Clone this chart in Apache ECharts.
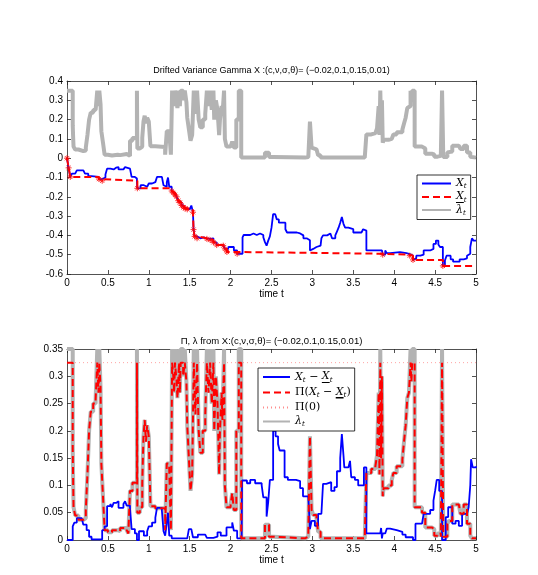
<!DOCTYPE html>
<html>
<head>
<meta charset="utf-8">
<script src="https://cdn.jsdelivr.net/npm/echarts@6/dist/echarts.min.js"></script>
<style>
  html, body { margin: 0; padding: 0; background: #fff; }
  #chart { width: 538px; height: 575px; }
</style>
</head>
<body>
<div id="chart"></div>
<script>
// axes: time range and tick step, value ranges of the two panels
const timeRange = [0, 5];
const timeStep = 0.5;
const topRange = [-0.6, 0.4];
const topStep = 0.1;
const bottomRange = [0, 0.35];
const bottomStep = 0.05;

// X_t, [time, value] breakpoints of the step path
const xPath = [[0,0],[0.02,-0.05],[0.04,-0.097],[0.06,-0.08],[0.10,-0.071],[0.12,-0.063],[0.20,-0.063],[0.22,-0.08],[0.26,-0.093],[0.30,-0.097],[0.39,-0.108],[0.43,-0.117],[0.45,-0.1],[0.47,-0.085],[0.49,-0.054],[0.53,-0.052],[0.55,-0.058],[0.57,-0.049],[0.60,-0.046],[0.63,-0.058],[0.69,-0.05],[0.71,-0.046],[0.73,-0.054],[0.77,-0.058],[0.79,-0.097],[0.83,-0.105],[0.855,-0.124],[0.86,-0.156],[0.90,-0.14],[0.94,-0.148],[0.98,-0.14],[1.00,-0.131],[1.04,-0.124],[1.08,-0.115],[1.10,-0.097],[1.16,-0.102],[1.18,-0.14],[1.20,-0.148],[1.22,-0.124],[1.235,-0.1],[1.25,-0.148],[1.28,-0.17],[1.30,-0.18],[1.32,-0.19],[1.34,-0.2],[1.36,-0.22],[1.38,-0.23],[1.40,-0.245],[1.425,-0.255],[1.445,-0.26],[1.47,-0.265],[1.50,-0.262],[1.52,-0.245],[1.54,-0.28],[1.547,-0.37],[1.56,-0.405],[1.59,-0.415],[1.63,-0.41],[1.67,-0.415],[1.71,-0.418],[1.75,-0.424],[1.77,-0.415],[1.79,-0.436],[1.83,-0.45],[1.91,-0.453],[1.93,-0.47],[1.955,-0.486],[1.975,-0.46],[2.0,-0.47],[2.02,-0.46],[2.04,-0.478],[2.08,-0.495],[2.146,-0.41],[2.16,-0.398],[2.24,-0.39],[2.28,-0.398],[2.32,-0.39],[2.36,-0.398],[2.40,-0.41],[2.42,-0.435],[2.44,-0.453],[2.46,-0.427],[2.48,-0.405],[2.50,-0.36],[2.52,-0.29],[2.545,-0.297],[2.565,-0.317],[2.59,-0.334],[2.67,-0.368],[2.69,-0.385],[2.81,-0.39],[2.85,-0.4],[2.89,-0.415],[2.93,-0.425],[2.97,-0.478],[2.99,-0.47],[3.01,-0.46],[3.05,-0.453],[3.10,-0.444],[3.11,-0.415],[3.13,-0.4],[3.18,-0.39],[3.22,-0.4],[3.24,-0.415],[3.28,-0.4],[3.30,-0.38],[3.32,-0.36],[3.34,-0.334],[3.36,-0.305],[3.38,-0.34],[3.40,-0.36],[3.44,-0.351],[3.46,-0.368],[3.50,-0.385],[3.60,-0.39],[3.62,-0.368],[3.64,-0.375],[3.66,-0.478],[3.85,-0.47],[3.86,-0.5],[3.89,-0.478],[3.91,-0.492],[3.95,-0.487],[4.07,-0.492],[4.15,-0.497],[4.19,-0.505],[4.23,-0.527],[4.25,-0.519],[4.27,-0.505],[4.32,-0.5],[4.36,-0.478],[4.44,-0.47],[4.48,-0.444],[4.51,-0.427],[4.54,-0.447],[4.56,-0.46],[4.595,-0.558],[4.62,-0.53],[4.64,-0.505],[4.69,-0.524],[4.72,-0.536],[4.80,-0.524],[4.85,-0.519],[4.89,-0.505],[4.91,-0.495],[4.93,-0.46],[4.95,-0.415],[4.97,-0.427],[5.0,-0.425]];

// running minimum of X_t (points where it moves down)
const minPath = [[0,0],[0.02,-0.05],[0.04,-0.097],[0.39,-0.108],[0.43,-0.117],[0.86,-0.156],[1.28,-0.17],[1.30,-0.18],[1.32,-0.19],[1.34,-0.2],[1.36,-0.22],[1.38,-0.23],[1.40,-0.245],[1.425,-0.255],[1.445,-0.26],[1.47,-0.265],[1.54,-0.28],[1.547,-0.37],[1.56,-0.405],[1.59,-0.415],[1.71,-0.418],[1.75,-0.424],[1.79,-0.436],[1.83,-0.45],[1.91,-0.453],[1.93,-0.47],[1.955,-0.486],[2.08,-0.495],[3.86,-0.5],[4.19,-0.505],[4.23,-0.527],[4.595,-0.558],[5.0,-0.558]];

// lambda_t
const lambdaPath = [[0,0.35],[0.07,0.17],[0.075,0.11],[0.08,0.06],[0.1,0.045],[0.14,0.037],[0.2,0.04],[0.23,0.055],[0.25,0.12],[0.27,0.2],[0.29,0.235],[0.32,0.25],[0.35,0.258],[0.37,0.35],[0.385,0.27],[0.395,0.35],[0.41,0.28],[0.42,0.14],[0.44,0.08],[0.46,0.018],[0.5,0.014],[0.55,0.018],[0.62,0.016],[0.65,0.022],[0.73,0.018],[0.75,0.012],[0.77,0.09],[0.8,0.105],[0.855,0.35],[0.86,0.05],[0.89,0.06],[0.92,0.105],[0.935,0.19],[0.95,0.22],[0.965,0.18],[0.98,0.21],[1.0,0.19],[1.02,0.062],[1.08,0.058],[1.2,0.018],[1.22,0.14],[1.25,0.13],[1.27,0.018],[1.285,0.35],[1.3,0.3],[1.31,0.27],[1.32,0.35],[1.34,0.29],[1.35,0.26],[1.37,0.35],[1.38,0.27],[1.39,0.35],[1.42,0.3],[1.44,0.35],[1.46,0.29],[1.47,0.21],[1.49,0.15],[1.51,0.09],[1.53,0.12],[1.55,0.35],[1.57,0.23],[1.59,0.35],[1.61,0.2],[1.63,0.16],[1.66,0.2],[1.69,0.23],[1.71,0.35],[1.73,0.27],[1.75,0.35],[1.77,0.25],[1.79,0.35],[1.8,0.2],[1.82,0.3],[1.84,0.25],[1.86,0.12],[1.87,0.2],[1.89,0.27],[1.9,0.22],[1.92,0.35],[1.93,0.1],[1.95,0.06],[2.0,0.065],[2.02,0.086],[2.04,0.055],[2.07,0.2],[2.1,0.35],[2.13,0.003],[2.42,0.028],[2.47,0.006],[2.52,0.003],[2.91,0.006],[2.95,0.015],[2.97,0.19],[2.99,0.055],[3.01,0.046],[3.05,0.04],[3.07,0.015],[3.1,0.003],[3.64,0.006],[3.66,0.123],[3.72,0.13],[3.77,0.135],[3.79,0.155],[3.81,0.27],[3.82,0.12],[3.83,0.35],[3.84,0.15],[3.85,0.3],[3.86,0.08],[3.87,0.095],[3.93,0.1],[3.97,0.11],[3.99,0.123],[4.03,0.135],[4.1,0.148],[4.12,0.18],[4.14,0.21],[4.16,0.26],[4.18,0.27],[4.2,0.35],[4.21,0.29],[4.22,0.35],[4.25,0.06],[4.34,0.05],[4.38,0.023],[4.46,0.02],[4.49,0.008],[4.53,0.012],[4.57,0.006],[4.585,0.35],[4.6,0.006],[4.65,0.03],[4.67,0.035],[4.71,0.065],[4.79,0.065],[4.81,0.048],[4.85,0.065],[4.89,0.03],[4.93,0.008],[4.95,0.003],[5.0,0.003]];

// X_t - running min
const diffPath = [[0,0],[0.07,0.025],[0.09,0.032],[0.12,0.04],[0.18,0.038],[0.2,0.028],[0.24,0.018],[0.27,0.006],[0.3,0.001],[0.43,0.018],[0.46,0.025],[0.49,0.062],[0.53,0.066],[0.55,0.06],[0.57,0.068],[0.6,0.071],[0.63,0.059],[0.69,0.066],[0.71,0.071],[0.73,0.063],[0.77,0.059],[0.79,0.02],[0.83,0.012],[0.855,0],[0.88,0.016],[0.94,0.008],[0.98,0.016],[1.0,0.025],[1.04,0.032],[1.08,0.041],[1.1,0.059],[1.16,0.054],[1.18,0.016],[1.2,0.008],[1.22,0.032],[1.235,0.05],[1.25,0.008],[1.28,0.003],[1.47,0.003],[1.49,0.02],[1.52,0.02],[1.54,0.005],[1.6,0.01],[1.69,0.01],[1.71,0.004],[1.79,0.006],[1.84,0.014],[1.88,0.008],[1.95,0.023],[2.02,0.032],[2.04,0.017],[2.08,0.003],[2.135,0],[2.14,0.109],[2.2,0.104],[2.24,0.11],[2.3,0.104],[2.38,0.1],[2.4,0.078],[2.44,0.043],[2.46,0.07],[2.48,0.11],[2.52,0.2],[2.55,0.19],[2.58,0.176],[2.6,0.164],[2.66,0.115],[2.7,0.11],[2.8,0.108],[2.85,0.095],[2.885,0.08],[2.95,0.077],[2.97,0.02],[2.99,0.035],[3.03,0.026],[3.07,0.048],[3.11,0.05],[3.13,0.103],[3.17,0.106],[3.23,0.09],[3.27,0.097],[3.3,0.126],[3.34,0.15],[3.36,0.194],[3.38,0.155],[3.39,0.133],[3.44,0.132],[3.46,0.145],[3.475,0.115],[3.52,0.11],[3.56,0.1],[3.63,0.133],[3.66,0.012],[3.83,0.012],[3.84,0.022],[3.85,0.003],[3.86,0.012],[3.89,0.015],[3.91,0.021],[3.95,0.018],[4.03,0.015],[4.1,0.01],[4.14,0.005],[4.23,0],[4.26,0.03],[4.34,0.03],[4.36,0.048],[4.44,0.055],[4.48,0.072],[4.5,0.09],[4.52,0.11],[4.55,0.09],[4.585,0],[4.63,0.042],[4.66,0.06],[4.71,0.03],[4.75,0.035],[4.79,0.026],[4.83,0.048],[4.89,0.048],[4.91,0.06],[4.93,0.1],[4.94,0.148],[4.96,0.133],[5,0.135]];

// Pi(X_t - running min)
const piPath = [[0,0.325],[0.07,0.17],[0.075,0.11],[0.08,0.06],[0.1,0.045],[0.14,0.037],[0.2,0.04],[0.23,0.055],[0.25,0.12],[0.27,0.2],[0.29,0.235],[0.32,0.25],[0.35,0.258],[0.37,0.325],[0.385,0.27],[0.395,0.325],[0.41,0.28],[0.42,0.14],[0.44,0.08],[0.46,0.018],[0.5,0.014],[0.55,0.018],[0.62,0.016],[0.65,0.022],[0.73,0.018],[0.75,0.012],[0.77,0.09],[0.8,0.105],[0.855,0.325],[0.86,0.05],[0.89,0.06],[0.92,0.105],[0.935,0.19],[0.95,0.22],[0.965,0.18],[0.98,0.21],[1.0,0.19],[1.02,0.062],[1.08,0.058],[1.2,0.018],[1.22,0.14],[1.25,0.13],[1.27,0.018],[1.285,0.325],[1.3,0.3],[1.31,0.27],[1.32,0.325],[1.34,0.29],[1.35,0.26],[1.37,0.325],[1.38,0.27],[1.39,0.325],[1.42,0.3],[1.44,0.325],[1.46,0.29],[1.47,0.21],[1.49,0.15],[1.51,0.09],[1.53,0.12],[1.55,0.325],[1.57,0.23],[1.59,0.325],[1.61,0.2],[1.63,0.16],[1.66,0.2],[1.69,0.23],[1.71,0.325],[1.73,0.27],[1.75,0.325],[1.77,0.25],[1.79,0.325],[1.8,0.2],[1.82,0.3],[1.84,0.25],[1.86,0.12],[1.87,0.2],[1.89,0.27],[1.9,0.22],[1.92,0.325],[1.93,0.1],[1.95,0.06],[2.0,0.065],[2.02,0.086],[2.04,0.055],[2.07,0.2],[2.1,0.325],[2.13,0.003],[2.42,0.028],[2.47,0.006],[2.52,0.003],[2.91,0.006],[2.95,0.015],[2.97,0.19],[2.99,0.055],[3.01,0.046],[3.05,0.04],[3.07,0.015],[3.1,0.003],[3.64,0.006],[3.66,0.123],[3.72,0.13],[3.77,0.135],[3.79,0.155],[3.81,0.27],[3.82,0.12],[3.83,0.325],[3.84,0.15],[3.85,0.3],[3.86,0.08],[3.87,0.095],[3.93,0.1],[3.97,0.11],[3.99,0.123],[4.03,0.135],[4.1,0.148],[4.12,0.18],[4.14,0.21],[4.16,0.26],[4.18,0.27],[4.2,0.325],[4.21,0.29],[4.22,0.325],[4.25,0.06],[4.34,0.05],[4.38,0.023],[4.46,0.02],[4.49,0.008],[4.53,0.012],[4.57,0.006],[4.585,0.325],[4.6,0.006],[4.65,0.03],[4.67,0.035],[4.71,0.065],[4.79,0.065],[4.81,0.048],[4.85,0.065],[4.89,0.03],[4.93,0.008],[4.95,0.003],[5.0,0.003]];

// Pi(0)
const piZero = 0.325;

const topTitle = 'Drifted Variance Gamma X :(c,ν,σ,θ)= (−0.02,0.1,0.15,0.01)';
const bottomTitle = 'Π, λ from X:(c,ν,σ,θ)= (−0.02,0.1,0.15,0.01)';

// legend labels, u = underlined X (running minimum)
const legendText = {
  Xt: '{i|X}{s|t}',
  Xmin: '{u|X}{s|t}',
  lambda: '{i|λ}{s|t}',
  diff: '{i|X}{s|t}{r| − }{u|X}{s|t}',
  Pi: '{r|Π(}{i|X}{s|t}{r| − }{u|X}{s|t}{r|)}',
  Pi0: '{r|Π(0)}'
};

const BLUE = '#0000ff', RED = '#ff0000', GRAY = '#b3b3b3';
const starSymbol = 'path://M5,0L5,10M0,5L10,5M1.5,1.5L8.5,8.5M1.5,8.5L8.5,1.5';

const axisColor = '#262626';
const labelStyle = { color: '#000', fontSize: 10, fontFamily: 'Liberation Sans' };

function xAxes(grid) {
  const base = {
    type: 'value', gridIndex: grid, min: timeRange[0], max: timeRange[1], interval: timeStep,
    splitLine: { show: false },
    axisLine: { onZero: false, lineStyle: { color: axisColor, width: 0.8 } },
    axisTick: { inside: true, length: 4, lineStyle: { color: axisColor, width: 0.8 } }
  };
  return [
    Object.assign({}, base, {
      position: 'bottom',
      axisLabel: Object.assign({ margin: 4 }, labelStyle),
      name: 'time t', nameLocation: 'middle', nameGap: 13,
      nameTextStyle: labelStyle
    }),
    Object.assign({}, base, { position: 'top', axisLabel: { show: false } })
  ];
}

function yAxes(grid, range, step) {
  const base = {
    type: 'value', gridIndex: grid, min: range[0], max: range[1], interval: step,
    splitLine: { show: false },
    axisLine: { onZero: false, lineStyle: { color: axisColor, width: 0.8 } },
    axisTick: { inside: true, length: 4, lineStyle: { color: axisColor, width: 0.8 } }
  };
  return [
    Object.assign({}, base, { position: 'left', axisLabel: Object.assign({ margin: 4 }, labelStyle) }),
    Object.assign({}, base, { position: 'right', axisLabel: { show: false } })
  ];
}

function stepLine(name, data, xi, yi, color, width, type, z) {
  return {
    name: name, type: 'line', step: 'end', data: data,
    xAxisIndex: xi, yAxisIndex: yi,
    symbol: 'none', showSymbol: false,
    lineStyle: { color: color, width: width, type: type },
    itemStyle: { color: color },
    z: z
  };
}

// thin black band at the bottom of the box acts as an underline
const underline = new echarts.graphic.LinearGradient(0, 0, 0, 1, [
  { offset: 0, color: 'rgba(255,255,255,0)' },
  { offset: 0.9, color: 'rgba(255,255,255,0)' },
  { offset: 0.9, color: '#000' },
  { offset: 1, color: '#000' }
]);

const richText = {
  i: { fontFamily: 'DejaVu Serif', fontStyle: 'italic', fontSize: 11, color: '#000' },
  u: { fontFamily: 'DejaVu Serif', fontStyle: 'italic', fontSize: 11, color: '#000', backgroundColor: underline, padding: [0, 0, 1, 0] },
  s: { fontFamily: 'DejaVu Serif', fontStyle: 'italic', fontSize: 7, color: '#000', padding: [6, 0, 0, 0] },
  r: { fontFamily: 'DejaVu Serif', fontSize: 11, color: '#000' }
};

function legendBox(names, left, top, itemWidth, gap) {
  return {
    orient: 'vertical', left: left, top: top,
    data: names, selectedMode: false,
    itemWidth: itemWidth, itemHeight: 10, itemGap: gap,
    padding: [3, 4, 3, 4],
    backgroundColor: '#fff', borderColor: '#000', borderWidth: 0.8,
    itemStyle: { opacity: 0 },
    formatter: function (n) { return legendText[n]; },
    textStyle: { rich: richText }
  };
}

const option = {
  animation: false,
  backgroundColor: '#fff',
  textStyle: { fontFamily: 'Liberation Sans' },
  graphic: [
    { type: 'text', x: 271.5, y: 71, style: { text: topTitle, textAlign: 'center', textVerticalAlign: 'middle', font: '9px "Liberation Sans"', fill: '#000' } },
    { type: 'text', x: 271.5, y: 341, style: { text: bottomTitle, textAlign: 'center', textVerticalAlign: 'middle', font: '9.5px "Liberation Sans"', fill: '#000' } }
  ],
  grid: [
    { left: 67, top: 81, width: 409, height: 193 },
    { left: 67, top: 349, width: 409, height: 191 }
  ],
  xAxis: xAxes(0).concat(xAxes(1)),
  yAxis: yAxes(0, topRange, topStep).concat(yAxes(1, bottomRange, bottomStep)),
  legend: [
    legendBox(['Xt', 'Xmin', 'lambda'], 417, 175, 29, 1),
    legendBox(['diff', 'Pi', 'Pi0', 'lambda'], 258, 368, 27, 3)
  ],
  series: [
    stepLine('lambda', lambdaPath, 0, 0, GRAY, 4, 'solid', 1),
    stepLine('Xt', xPath, 0, 0, BLUE, 1.8, 'solid', 2),
    stepLine('Xmin', minPath, 0, 0, RED, 2, [7, 4], 3),
    {
      name: 'minMarks', type: 'scatter', xAxisIndex: 0, yAxisIndex: 0,
      data: minPath.slice(0, -1), symbol: starSymbol, symbolSize: 6,
      itemStyle: { color: RED, borderColor: RED, borderWidth: 1 }, z: 4
    },
    stepLine('lambda', lambdaPath, 2, 2, GRAY, 4, 'solid', 1),
    stepLine('diff', diffPath, 2, 2, BLUE, 1.8, 'solid', 2),
    stepLine('Pi', piPath, 2, 2, RED, 2, [7, 4], 3),
    {
      name: 'Pi0', type: 'line', xAxisIndex: 2, yAxisIndex: 2,
      data: [[timeRange[0], piZero], [timeRange[1], piZero]],
      symbol: 'none', lineStyle: { color: '#ff8c8c', width: 0.8, type: [1, 3] },
      itemStyle: { color: '#ff8c8c' }, z: 2
    }
  ]
};

const myChart = echarts.init(document.getElementById('chart'), null, { renderer: 'canvas' });
myChart.setOption(option);
</script>
</body>
</html>
